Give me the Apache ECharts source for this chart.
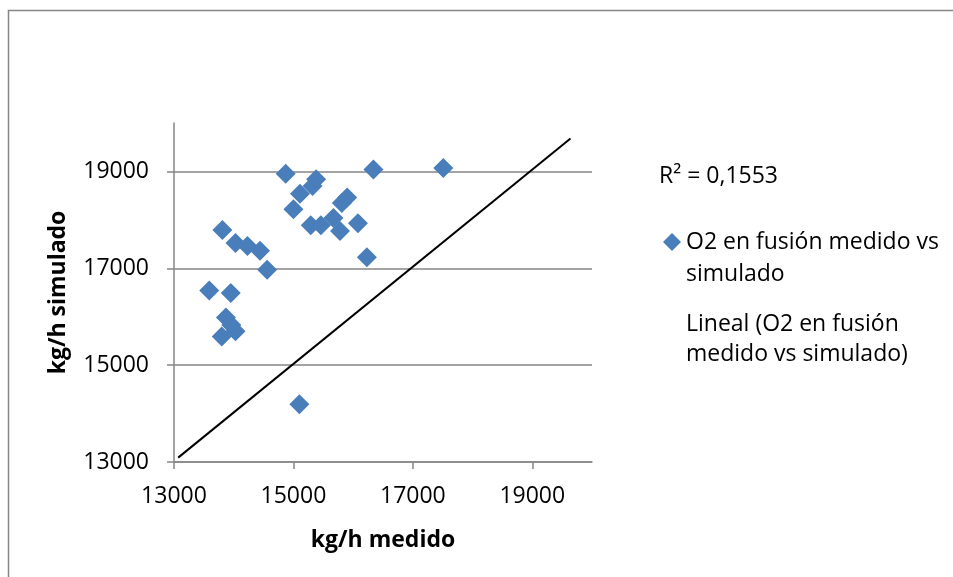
<!DOCTYPE html>
<html>
<head>
<meta charset="utf-8">
<script src="https://cdn.jsdelivr.net/npm/echarts@6/dist/echarts.min.js"></script>
<style>
html,body{margin:0;padding:0;background:#fff;}
#chart{width:953px;height:577px;}
</style>
</head>
<body>
<div id="chart"></div>
<script>
// Data
const medido   = [16030,16340,14870,15380,15320,15110,15900,15810,15000,15670,15290,15460,16080,15780,13810,14030,14230,14440,16230,14560,13590,13950,13870,13960,14030,13800,15100,17510];
const simulado = [20060,19040,18950,18840,18700,18540,18460,18350,18220,18040,17890,17890,17930,17770,17790,17520,17460,17360,17230,16970,16540,16490,15985,15830,15700,15590,14190,19070];
const lineX = [13070, 19640];
const lineY = [13090, 19680];
const xTicks = [13000, 15000, 17000, 19000];
const yTicks = [13000, 15000, 17000, 19000];
const axisMin = 13000, axisMax = 20000;
const seriesName = 'O2 en fusión medido vs simulado';
const lineName = 'Lineal (O2 en fusión medido vs simulado)';
const r2Text = 'R² = 0,1553';
const xName = 'kg/h medido';
const yName = 'kg/h simulado';

const FONT = '"Open Sans", "Noto Sans", sans-serif';
const GRAY = '#868686';
const BLUE = '#4a7ebb';
const FS = 23;

const scatterData = medido.map((x, i) => [x, simulado[i]]);
const lineData = lineX.map((x, i) => [x, lineY[i]]);
const plain = v => String(v);

const chart = echarts.init(document.getElementById('chart'), null, {renderer: 'canvas'});
chart.setOption({
  animation: false,
  backgroundColor: '#fff',
  textStyle: {fontFamily: FONT},
  grid: {left: 174, right: 361, top: 123, bottom: 115, containLabel: false},
  xAxis: {
    type: 'value', min: axisMin, max: axisMax,
    name: xName, nameLocation: 'middle', nameGap: 67,
    nameTextStyle: {fontFamily: FONT, fontSize: FS, fontWeight: 'bold', color: '#000'},
    axisLine: {show: true, lineStyle: {color: GRAY, width: 1.5}},
    axisTick: {show: true, length: 7, customValues: xTicks, lineStyle: {color: GRAY, width: 1.5}},
    axisLabel: {customValues: xTicks, formatter: plain, margin: 23, fontFamily: FONT, fontSize: FS, color: '#000'},
    splitLine: {show: false}
  },
  yAxis: {
    type: 'value', min: axisMin, max: axisMax,
    name: yName, nameLocation: 'middle', nameGap: 104,
    nameTextStyle: {fontFamily: FONT, fontSize: FS, fontWeight: 'bold', color: '#000'},
    axisLine: {show: true, lineStyle: {color: GRAY, width: 1.5}},
    axisTick: {show: true, length: 7, customValues: yTicks, lineStyle: {color: GRAY, width: 1.5}},
    axisLabel: {customValues: yTicks, formatter: plain, margin: 25, fontFamily: FONT, fontSize: FS, color: '#000'},
    splitLine: {show: true, lineStyle: {color: GRAY, width: 1.5}}
  },
  legend: [
    {
      data: [{name: seriesName, icon: 'diamond'}],
      left: 658, top: 189, orient: 'vertical',
      itemWidth: 18, itemHeight: 18,
      formatter: () => '\nO2 en fusión medido vs\nsimulado',
      textStyle: {fontFamily: FONT, fontSize: FS, color: '#000', lineHeight: 32}
    },
    {
      data: [{name: lineName, icon: 'none'}],
      left: 658, top: 304, orient: 'vertical',
      itemWidth: 18, itemHeight: 18,
      formatter: () => 'Lineal (O2 en fusión\nmedido vs simulado)',
      textStyle: {fontFamily: FONT, fontSize: FS, color: '#000', lineHeight: 30}
    }
  ],
  graphic: [
    {type: 'rect', shape: {x: 8.5, y: 10.5, width: 1200, height: 1000}, style: {fill: 'none', stroke: GRAY, lineWidth: 1.5}, z: -10, silent: true},
    {type: 'text', left: 659, top: 165, style: {text: r2Text, font: FS + 'px ' + FONT, fill: '#000'}}
  ],
  series: [
    {
      name: seriesName, type: 'scatter', data: scatterData,
      symbol: 'diamond', symbolSize: 20,
      itemStyle: {color: BLUE, opacity: 1}
    },
    {
      name: lineName, type: 'line', data: lineData,
      symbol: 'none', lineStyle: {color: '#000', width: 2},
      itemStyle: {color: '#000'}
    }
  ]
});
</script>
</body>
</html>
